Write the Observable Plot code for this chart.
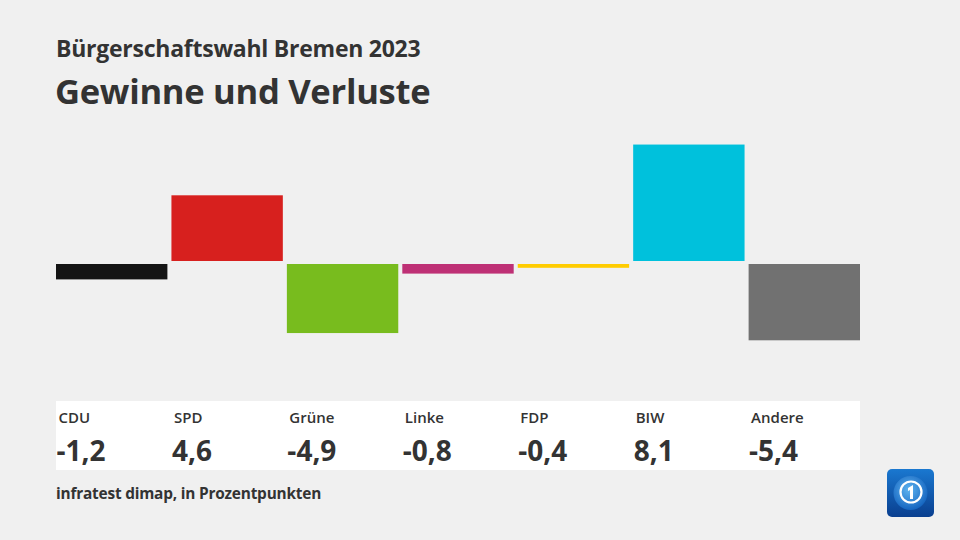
<!DOCTYPE html>
<html>
<head>
<meta charset="utf-8">
<script src="https://cdn.jsdelivr.net/npm/d3@7"></script>
<script src="https://cdn.jsdelivr.net/npm/@observablehq/plot@0.6"></script>
<style>
  html, body { margin: 0; padding: 0; background: #f0f0f0; }
  #wrap { position: relative; width: 960px; height: 540px; background: #f0f0f0; overflow: hidden; font-family: "Open Sans", sans-serif; color: #333; }
  #sub { position: absolute; left: 56px; top: 32px; font-size: 23px; font-weight: 700; letter-spacing: -0.25px; }
  #title { position: absolute; left: 55px; top: 67px; font-size: 34.6px; font-weight: 700; letter-spacing: -0.3px; }
  #panel { position: absolute; left: 56px; top: 401px; width: 804px; height: 69px; background: #fff; }
  #chart { position: absolute; left: 0; top: 120px; }
  #foot { position: absolute; left: 56px; top: 483px; font-size: 15.4px; font-weight: 700; letter-spacing: -0.2px; }
  #logo { position: absolute; left: 887px; top: 469px; }
</style>
</head>
<body>
<div id="wrap">
  <div id="sub">Bürgerschaftswahl Bremen 2023</div>
  <div id="title">Gewinne und Verluste</div>
  <div id="panel"></div>
  <div id="chart"></div>
  <div id="foot">infratest dimap, in Prozentpunkten</div>
  <svg id="logo" width="47" height="48" viewBox="0 0 47 48">
    <defs>
      <linearGradient id="lg" x1="0" y1="0" x2="0" y2="1">
        <stop offset="0" stop-color="#1a78d0"/>
        <stop offset="1" stop-color="#0a3f8f"/>
      </linearGradient>
      <radialGradient id="rg" cx="0.45" cy="0.4" r="0.6">
        <stop offset="0" stop-color="#5fb4f0"/>
        <stop offset="1" stop-color="#1565c0"/>
      </radialGradient>
    </defs>
    <rect x="0" y="0" width="47" height="48" rx="5" fill="url(#lg)"/>
    <circle cx="23.5" cy="24" r="17" fill="url(#rg)"/>
    <circle cx="24" cy="23" r="10.5" fill="none" stroke="#fff" stroke-width="2.2"/>
    <path d="M21 19 L26 16 L26 30 L23 30 L23 21 L21 22 Z" fill="#fff"/>
  </svg>
</div>
<script>
const parties = ["CDU", "SPD", "Grüne", "Linke", "FDP", "BIW", "Andere"];
const changes = [-1.2, 4.6, -4.9, -0.8, -0.4, 8.1, -5.4];
const colors  = ["#141414", "#d7201e", "#78bc1e", "#be3075", "#ffcc00", "#00c1dc", "#717171"];

const data = parties.map((p, i) => ({party: p, value: changes[i], color: colors[i]}));
const fmt = v => v.toFixed(1).replace(".", ",");

const bandwidth = 111.4;
const chart = Plot.plot({
  width: 960,
  height: 360,
  margin: 0,
  style: {background: "transparent", fontFamily: "'Open Sans', sans-serif", color: "#333"},
  x: {domain: parties, range: [56, 860], paddingInner: 0.035, paddingOuter: 0, round: false, axis: null},
  y: {domain: [-6, 9], range: [229, 11.5], axis: null},
  marks: [
    Plot.barY(data, {x: "party", y: "value", fill: "color"}),
    Plot.ruleY([0], {stroke: "#f0f0f0", strokeWidth: 3}),
    Plot.text(data, {x: "party", text: "party", frameAnchor: "top", lineAnchor: "middle", dy: 298, dx: -bandwidth / 2 + 2,
      textAnchor: "start", fontSize: 15, fontWeight: 600, fill: "#333"}),
    Plot.text(data, {x: "party", text: d => fmt(d.value), frameAnchor: "top", lineAnchor: "middle", dy: 332, dx: -bandwidth / 2,
      textAnchor: "start", fontSize: 28, fontWeight: 700, fill: "#333"})
  ]
});
document.getElementById("chart").appendChild(chart);
</script>
</body>
</html>
